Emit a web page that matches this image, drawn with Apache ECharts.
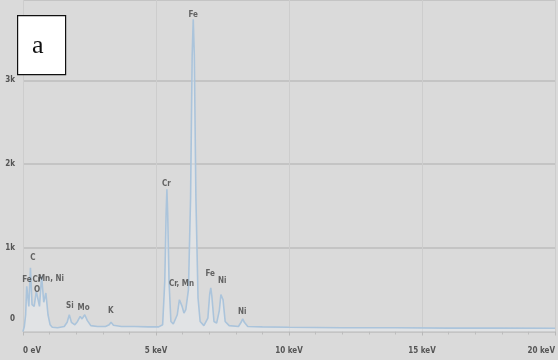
<!DOCTYPE html>
<html>
<head>
<meta charset="utf-8">
<script src="https://cdn.jsdelivr.net/npm/echarts@6/dist/echarts.min.js"></script>
<style>
  html, body { margin: 0; padding: 0; background: #dadada; }
  #chart { width: 558px; height: 360px; }
</style>
</head>
<body>
<div id="chart"></div>
<script>
// spectrum: energy in keV, counts
const energy = [
  0.00, 0.05, 0.10, 0.14, 0.18, 0.22, 0.28, 0.34, 0.42, 0.50, 0.55, 0.62,
  0.70, 0.78, 0.86, 0.94, 1.02, 1.10, 1.30, 1.55, 1.66, 1.74, 1.82, 1.95,
  2.05, 2.15, 2.22, 2.32, 2.42, 2.55, 2.80, 3.10, 3.24, 3.31, 3.40, 3.70,
  4.20, 4.70, 5.10, 5.25, 5.33, 5.38, 5.41, 5.44, 5.49, 5.56, 5.65, 5.80,
  5.88, 5.93, 5.98, 6.05, 6.12, 6.22, 6.30, 6.36, 6.40, 6.44, 6.50, 6.58,
  6.66, 6.80, 6.95, 7.02, 7.06, 7.10, 7.18, 7.28, 7.38, 7.44, 7.47, 7.52,
  7.60, 7.75, 8.10, 8.20, 8.26, 8.32, 8.45, 9.00, 10.0, 12.0, 14.0, 16.0,
  18.0, 20.0
];
const counts = [
  0, 60, 200, 540, 560, 300, 760, 320, 300, 480, 500, 300,
  660, 350, 460, 200, 80, 50, 45, 60, 110, 200, 110, 80,
  120, 180, 150, 200, 130, 70, 60, 60, 80, 110, 75, 60,
  60, 55, 55, 80, 600, 1400, 1700, 1400, 600, 120, 90, 200,
  380, 400, 300, 220, 260, 500, 1600, 3300, 3730, 3300, 1600, 400,
  120, 70, 160, 450, 520, 420, 120, 100, 250, 440, 460, 380,
  120, 70, 60, 110, 150, 110, 60, 55, 50, 45, 45, 40,
  40, 38
];

// peak labels: name, energy (keV), height (counts) of label centre
const peakNames = ['Fe', 'C', 'Cr', 'O', 'Mn, Ni', 'Si', 'Mo', 'K', 'Cr', 'Cr, Mn', 'Fe', 'Fe', 'Ni', 'Ni'];
const peakEnergy = [0.15, 0.37, 0.52, 0.53, 1.05, 1.76, 2.28, 3.30, 5.39, 5.96, 6.40, 7.04, 7.49, 8.24];
const peakHeight = [617, 880, 617, 500, 630, 305, 280, 245, 1760, 570, 3780, 690, 605, 235];

const xTicks = { 0: '0 eV', 5: '5 keV', 10: '10 keV', 15: '15 keV', 20: '20 keV' };
const yTicks = { 0: '0', 1000: '1k', 2000: '2k', 3000: '3k' };

const chart = echarts.init(document.getElementById('chart'));
const smallFont = 'Liberation Sans Narrow, DejaVu Sans Condensed, sans-serif';

const option = {
  backgroundColor: '#dadada',
  animation: false,
  grid: { left: 23, right: 1, top: 0, bottom: 28.5 },
  xAxis: {
    type: 'value',
    min: 0,
    max: 20,
    interval: 5,
    axisLine: { show: true, lineStyle: { color: '#c6c6c6', width: 1 } },
    axisTick: { show: true, length: 4, lineStyle: { color: '#b8b8b8' } },
    minorTick: { show: true, splitNumber: 5, length: 3, lineStyle: { color: '#bcbcbc' } },
    splitLine: { show: true, lineStyle: { color: '#cdcdcd', width: 1 } },
    axisLabel: {
      margin: 15,
      fontSize: 8,
      fontWeight: 'bold',
      fontFamily: smallFont,
      color: '#555',
      alignMinLabel: 'left',
      alignMaxLabel: 'right',
      formatter: (v) => xTicks[v] || ''
    }
  },
  yAxis: {
    type: 'value',
    min: 0,
    max: 3960,
    interval: 1000,
    axisLine: { show: false },
    axisTick: { show: false },
    splitLine: { show: true, lineStyle: { color: '#c4c4c4', width: 2 } },
    axisLabel: {
      margin: 8,
      fontSize: 8,
      fontWeight: 'bold',
      fontFamily: smallFont,
      color: '#555',
      formatter: (v) => (v === 0 ? '{z|0}' : (yTicks[v] || '')),
      rich: { z: { fontSize: 8, fontWeight: 'bold', color: '#555', padding: [0, 0, 26, 0] } }
    }
  },
  series: [
    {
      type: 'line',
      data: energy.map((e, i) => [e, counts[i]]),
      showSymbol: false,
      lineStyle: { color: '#abc4db', width: 1.6 },
      areaStyle: { color: 'rgba(236,242,248,0.55)' },
      z: 3
    },
    {
      type: 'scatter',
      data: peakEnergy.map((e, i) => ({ value: [e, peakHeight[i]], name: peakNames[i] })),
      symbolSize: 0,
      label: {
        show: true,
        position: 'inside',
        formatter: (p) => p.name,
        fontSize: 8,
        fontWeight: 'bold',
        fontFamily: smallFont,
        color: '#444'
      },
      z: 4
    }
  ],
  graphic: [
    {
      type: 'rect',
      left: 17,
      top: 15,
      shape: { width: 48, height: 59 },
      style: { fill: '#ffffff', stroke: '#111', lineWidth: 1.2 },
      z: 10
    },
    {
      type: 'text',
      left: 32,
      top: 33,
      style: { text: 'a', font: '26px "Liberation Serif", serif', fill: '#111' },
      z: 11
    }
  ]
};

chart.setOption(option);
</script>
</body>
</html>
